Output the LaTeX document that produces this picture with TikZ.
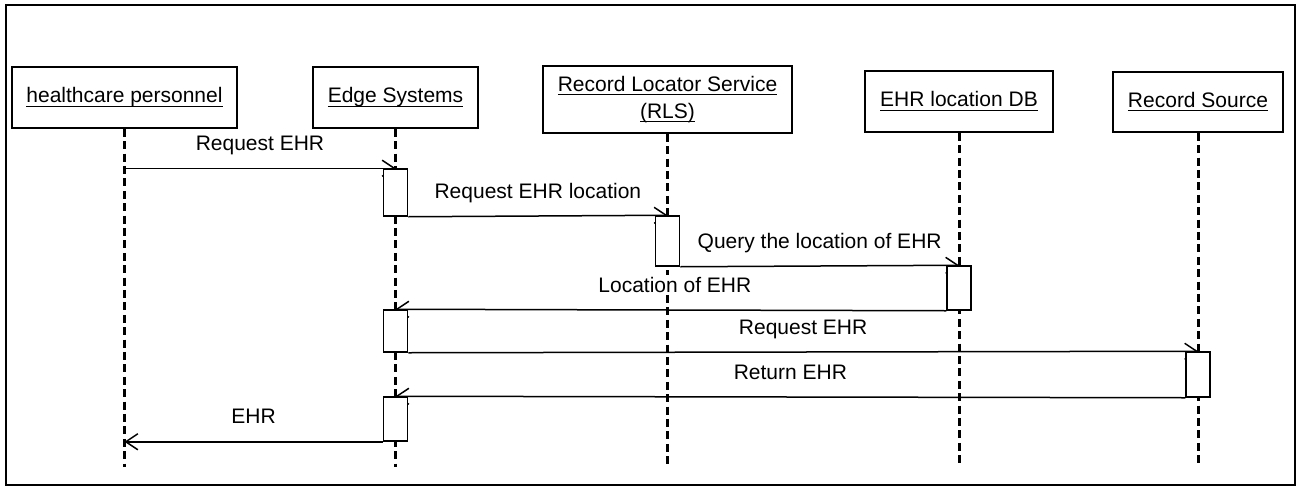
\documentclass[tikz,border=0pt]{standalone}
\usepackage{amsmath}
\usepackage{fontspec}
\setmainfont{Liberation Sans}
\usetikzlibrary{arrows.meta,backgrounds}

\newcommand{\headname}[1]{\underline{\smash[b]{#1}}}

\tikzset{
  head/.style={draw, line width=0.75pt, align=center, inner sep=0pt, font=\fontsize{10.5}{11.5}\selectfont},
  life/.style={line width=1.5pt, dash pattern=on 4pt off 2.2pt},
  act/.style={draw, fill=white, line width=0.75pt, minimum width=12pt, inner sep=0pt},
  msg/.style={line width=0.75pt, -{Straight Barb[length=6pt,width=8pt]}},
  lbl/.style={anchor=base, yshift=9pt, fill=white, inner sep=1pt, font=\fontsize{10.5}{12}\selectfont}
}

\begin{document}
\begin{tikzpicture}[x=0.5pt, y=-0.5pt]

\useasboundingbox (0,0) rectangle (1299,487);
\draw[line width=1pt] (6,5) rectangle (1295,485);

% heads
\node[head, minimum width=112.5pt, minimum height=30.5pt] (hp) at (124.5,97.5) {\headname{healthcare personnel}};
\node[head, minimum width=82.5pt, minimum height=30.5pt] (edge) at (395.5,97.5) {\headname{Edge Systems}};
\node[head, minimum width=124.5pt, minimum height=33.5pt] (rls) at (667.5,99.5) {\headname{Record Locator Service}\\[2pt]\headname{(RLS)}};
\node[head, minimum width=94pt, minimum height=30.5pt] (db) at (959,101.5) {\headname{EHR location DB}};
\node[head, minimum width=85pt, minimum height=30pt] (src) at (1198,102) {\headname{Record Source}};

% activations
\node[act, minimum height=23.5pt] (a1) at (edge |- 0,192.5) {};
\node[act, minimum height=25pt] (a2) at (rls |- 0,241) {};
\node[act, minimum height=22pt] (a3) at (db |- 0,288) {};
\node[act, minimum height=21pt] (a4) at (edge |- 0,331) {};
\node[act, minimum height=22.5pt] (a5) at (src |- 0,374.5) {};
\node[act, minimum height=22pt] (a6) at (edge |- 0,419) {};

\begin{pgfonlayer}{background}
% lifelines
\foreach \n in {hp,edge,rls,db,src}
  \draw[life] (\n.south) -- (\n.south |- 0,467);

% messages
\draw[msg] (hp |- a1.north) -- (a1.north) node[lbl, midway] {Request EHR};
\draw[msg] (a1.south east) -- (a2.north) node[lbl, midway] {Request EHR location};
\draw[msg] (a2.south east) -- (a3.north) node[lbl, midway] {Query the location of EHR};
\draw[msg] (a3.south west) -- (a4.north) node[lbl, midway, xshift=2pt] {Location of EHR};
\draw[msg] (a4.south east) -- (a5.north) node[lbl, midway] {Request EHR};
\draw[msg] (a5.south west) -- (a6.north) node[lbl, midway] {Return EHR};
\draw[msg] (a6.south west) -- (hp |- a6.south) node[lbl, midway] {EHR};
\end{pgfonlayer}

\end{tikzpicture}
\end{document}
